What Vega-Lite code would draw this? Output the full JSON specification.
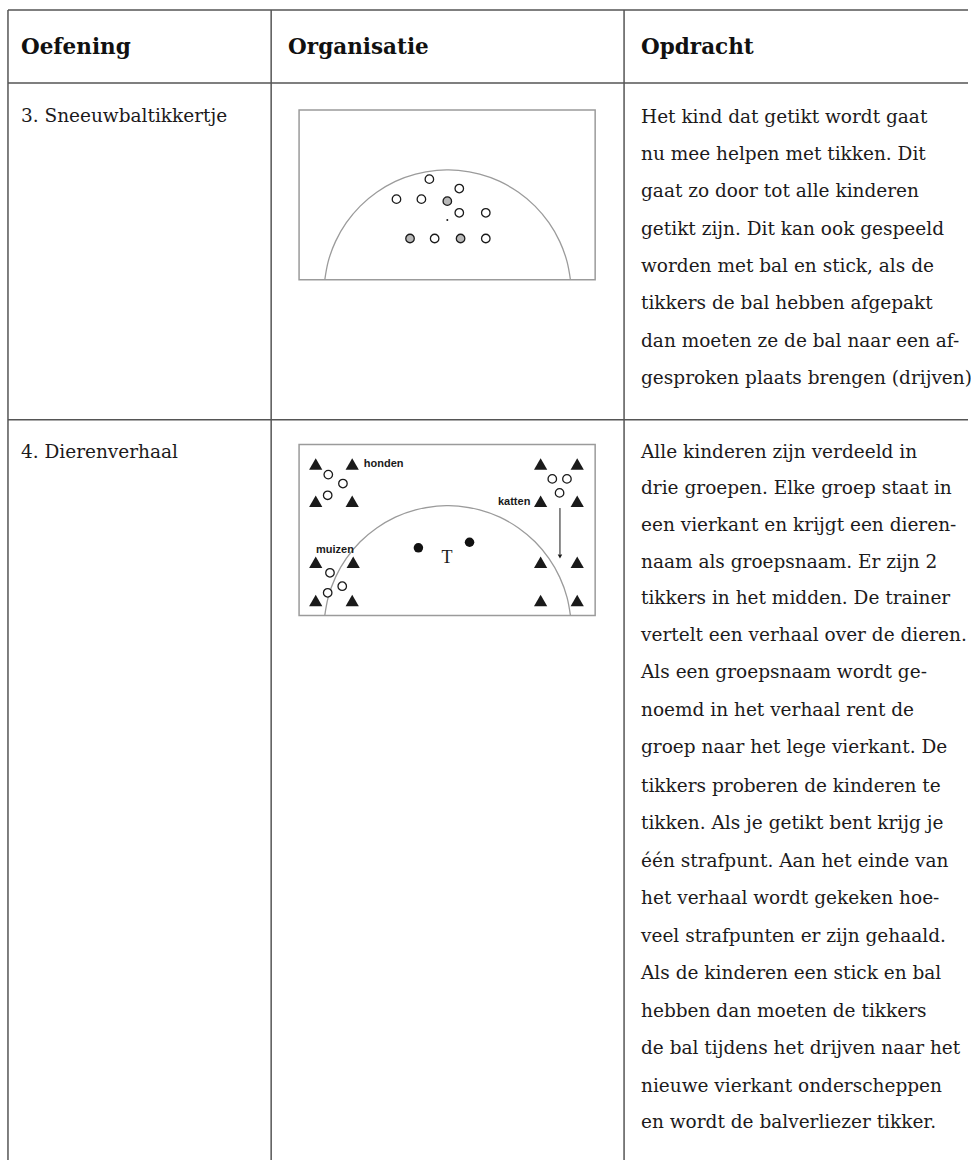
{
  "$schema": "https://vega.github.io/schema/vega-lite/v6.json",
  "width": 971,
  "height": 1161,
  "autosize": {"type": "fit", "contains": "padding"},
  "padding": 0,
  "background": "#ffffff",
  "config": {"view": {"stroke": null}},
  "datasets": {
    "tabellijnen": [
      {"x": 8, "y": 10, "x2": 971, "y2": 10},
      {"x": 8, "y": 83, "x2": 971, "y2": 83},
      {"x": 8, "y": 420, "x2": 971, "y2": 420},
      {"x": 8, "y": 10, "x2": 8, "y2": 1161},
      {"x": 272, "y": 10, "x2": 272, "y2": 1161},
      {"x": 626, "y": 10, "x2": 626, "y2": 1161}
    ],
    "velden": [
      {"oefening": "3", "x": 300, "y": 110, "x2": 597, "y2": 280},
      {"oefening": "4", "x": 300, "y": 445, "x2": 597, "y2": 616}
    ],
    "cirkelbogen": [
      {"oefening": "3", "i": 0, "x": 572.2, "y": 280.0},
      {"oefening": "3", "i": 1, "x": 568.8, "y": 261.9},
      {"oefening": "3", "i": 2, "x": 561.4, "y": 241.6},
      {"oefening": "3", "i": 3, "x": 550.6, "y": 222.9},
      {"oefening": "3", "i": 4, "x": 536.7, "y": 206.3},
      {"oefening": "3", "i": 5, "x": 520.1, "y": 192.4},
      {"oefening": "3", "i": 6, "x": 501.4, "y": 181.6},
      {"oefening": "3", "i": 7, "x": 481.1, "y": 174.2},
      {"oefening": "3", "i": 8, "x": 459.8, "y": 170.5},
      {"oefening": "3", "i": 9, "x": 449.0, "y": 170.0},
      {"oefening": "3", "i": 10, "x": 438.2, "y": 170.5},
      {"oefening": "3", "i": 11, "x": 416.9, "y": 174.2},
      {"oefening": "3", "i": 12, "x": 396.6, "y": 181.6},
      {"oefening": "3", "i": 13, "x": 377.9, "y": 192.4},
      {"oefening": "3", "i": 14, "x": 361.3, "y": 206.3},
      {"oefening": "3", "i": 15, "x": 347.4, "y": 222.9},
      {"oefening": "3", "i": 16, "x": 336.6, "y": 241.6},
      {"oefening": "3", "i": 17, "x": 329.2, "y": 261.9},
      {"oefening": "3", "i": 18, "x": 325.8, "y": 280.0},
      {"oefening": "4", "i": 0, "x": 572.2, "y": 616.0},
      {"oefening": "4", "i": 1, "x": 568.8, "y": 597.9},
      {"oefening": "4", "i": 2, "x": 561.4, "y": 577.6},
      {"oefening": "4", "i": 3, "x": 550.6, "y": 558.9},
      {"oefening": "4", "i": 4, "x": 536.7, "y": 542.3},
      {"oefening": "4", "i": 5, "x": 520.1, "y": 528.4},
      {"oefening": "4", "i": 6, "x": 501.4, "y": 517.6},
      {"oefening": "4", "i": 7, "x": 481.1, "y": 510.2},
      {"oefening": "4", "i": 8, "x": 459.8, "y": 506.5},
      {"oefening": "4", "i": 9, "x": 449.0, "y": 506.0},
      {"oefening": "4", "i": 10, "x": 438.2, "y": 506.5},
      {"oefening": "4", "i": 11, "x": 416.9, "y": 510.2},
      {"oefening": "4", "i": 12, "x": 396.6, "y": 517.6},
      {"oefening": "4", "i": 13, "x": 377.9, "y": 528.4},
      {"oefening": "4", "i": 14, "x": 361.3, "y": 542.3},
      {"oefening": "4", "i": 15, "x": 347.4, "y": 558.9},
      {"oefening": "4", "i": 16, "x": 336.6, "y": 577.6},
      {"oefening": "4", "i": 17, "x": 329.2, "y": 597.9},
      {"oefening": "4", "i": 18, "x": 325.8, "y": 616.0}
    ],
    "spelers": [
      {"oefening": "3", "rol": "speler", "x": 430.7, "y": 179.3},
      {"oefening": "3", "rol": "speler", "x": 460.7, "y": 188.7},
      {"oefening": "3", "rol": "speler", "x": 397.7, "y": 199.3},
      {"oefening": "3", "rol": "speler", "x": 422.7, "y": 199.3},
      {"oefening": "3", "rol": "tikker", "x": 448.7, "y": 201.3},
      {"oefening": "3", "rol": "speler", "x": 460.7, "y": 213.0},
      {"oefening": "3", "rol": "speler", "x": 487.3, "y": 213.0},
      {"oefening": "3", "rol": "tikker", "x": 411.3, "y": 238.7},
      {"oefening": "3", "rol": "speler", "x": 436.0, "y": 238.7},
      {"oefening": "3", "rol": "tikker", "x": 462.0, "y": 238.7},
      {"oefening": "3", "rol": "speler", "x": 487.3, "y": 238.7},
      {"oefening": "4", "rol": "speler", "x": 329.3, "y": 475.0},
      {"oefening": "4", "rol": "speler", "x": 344.0, "y": 484.0},
      {"oefening": "4", "rol": "speler", "x": 328.7, "y": 495.7},
      {"oefening": "4", "rol": "speler", "x": 554.0, "y": 479.3},
      {"oefening": "4", "rol": "speler", "x": 568.7, "y": 479.3},
      {"oefening": "4", "rol": "speler", "x": 561.3, "y": 493.3},
      {"oefening": "4", "rol": "speler", "x": 331.0, "y": 573.3},
      {"oefening": "4", "rol": "speler", "x": 343.3, "y": 586.7},
      {"oefening": "4", "rol": "speler", "x": 328.7, "y": 593.3}
    ],
    "middenstip": [
      {"oefening": "3", "x": 448.7, "y": 220.3}
    ],
    "tikkers": [
      {"oefening": "4", "x": 419.7, "y": 548.3},
      {"oefening": "4", "x": 471.0, "y": 542.7}
    ],
    "pionnen": [
      {"groep": "honden", "x": 316.7, "y": 464.3},
      {"groep": "honden", "x": 353.3, "y": 464.3},
      {"groep": "honden", "x": 316.7, "y": 501.7},
      {"groep": "honden", "x": 353.3, "y": 501.7},
      {"groep": "katten", "x": 542.3, "y": 464.3},
      {"groep": "katten", "x": 579.0, "y": 464.3},
      {"groep": "katten", "x": 542.3, "y": 501.7},
      {"groep": "katten", "x": 579.0, "y": 501.7},
      {"groep": "muizen", "x": 316.7, "y": 562.7},
      {"groep": "muizen", "x": 354.3, "y": 562.7},
      {"groep": "muizen", "x": 316.7, "y": 601.0},
      {"groep": "muizen", "x": 353.3, "y": 601.0},
      {"groep": "leeg", "x": 542.3, "y": 562.7},
      {"groep": "leeg", "x": 579.0, "y": 562.7},
      {"groep": "leeg", "x": 542.3, "y": 601.0},
      {"groep": "leeg", "x": 579.0, "y": 601.0}
    ],
    "pijl": [
      {"x": 561.7, "y": 508.5, "x2": 561.7, "y2": 555.0}
    ],
    "pijlpunt": [
      {"x": 561.7, "y": 557.0}
    ],
    "koppen": [
      {"tekst": "Oefening", "x": 21, "y": 48},
      {"tekst": "Organisatie", "x": 289, "y": 48},
      {"tekst": "Opdracht", "x": 643, "y": 48}
    ],
    "groepsnamen": [
      {"tekst": "honden", "x": 365, "y": 464.5, "uitlijning": "left"},
      {"tekst": "katten", "x": 532, "y": 502, "uitlijning": "right"},
      {"tekst": "muizen", "x": 317, "y": 550, "uitlijning": "left"}
    ],
    "trainer": [
      {"tekst": "T", "x": 448.3, "y": 558.5}
    ],
    "cellen": [
      {"tekst": "3. Sneeuwbaltikkertje", "x": 21, "y": 116},
      {"tekst": "4. Dierenverhaal", "x": 21, "y": 452},
      {"tekst": "Het kind dat getikt wordt gaat", "x": 643, "y": 117},
      {"tekst": "nu mee helpen met tikken. Dit", "x": 643, "y": 154.3},
      {"tekst": "gaat zo door tot alle kinderen", "x": 643, "y": 191.6},
      {"tekst": "getikt zijn. Dit kan ook gespeeld", "x": 643, "y": 228.9},
      {"tekst": "worden met bal en stick, als de", "x": 643, "y": 266.2},
      {"tekst": "tikkers de bal hebben afgepakt", "x": 643, "y": 303.5},
      {"tekst": "dan moeten ze de bal naar een af-", "x": 643, "y": 340.8},
      {"tekst": "gesproken plaats brengen (drijven)", "x": 643, "y": 378.1},
      {"tekst": "Alle kinderen zijn verdeeld in", "x": 643, "y": 452},
      {"tekst": "drie groepen. Elke groep staat in", "x": 643, "y": 488.5},
      {"tekst": "een vierkant en krijgt een dieren-", "x": 643, "y": 525.5},
      {"tekst": "naam als groepsnaam. Er zijn 2", "x": 643, "y": 562.5},
      {"tekst": "tikkers in het midden. De trainer", "x": 643, "y": 599},
      {"tekst": "vertelt een verhaal over de dieren.", "x": 643, "y": 636},
      {"tekst": "Als een groepsnaam wordt ge-", "x": 643, "y": 673},
      {"tekst": "noemd in het verhaal rent de", "x": 643, "y": 710.5},
      {"tekst": "groep naar het lege vierkant. De", "x": 643, "y": 748},
      {"tekst": "tikkers proberen de kinderen te", "x": 643, "y": 787},
      {"tekst": "tikken. Als je getikt bent krijg je", "x": 643, "y": 824},
      {"tekst": "één strafpunt. Aan het einde van", "x": 643, "y": 861.5},
      {"tekst": "het verhaal wordt gekeken hoe-", "x": 643, "y": 899},
      {"tekst": "veel strafpunten er zijn gehaald.", "x": 643, "y": 936.5},
      {"tekst": "Als de kinderen een stick en bal", "x": 643, "y": 974},
      {"tekst": "hebben dan moeten de tikkers", "x": 643, "y": 1011.5},
      {"tekst": "de bal tijdens het drijven naar het", "x": 643, "y": 1049},
      {"tekst": "nieuwe vierkant onderscheppen", "x": 643, "y": 1086.5},
      {"tekst": "en wordt de balverliezer tikker.", "x": 643, "y": 1123}
    ]
  },
  "encoding": {
    "x": {"field": "x", "type": "quantitative", "axis": null, "scale": {"domain": [0, 971], "nice": false, "zero": false}},
    "y": {"field": "y", "type": "quantitative", "axis": null, "scale": {"domain": [0, 1161], "nice": false, "zero": false, "reverse": true}}
  },
  "layer": [
    {
      "data": {"name": "tabellijnen"},
      "mark": {"type": "rule", "stroke": "#555555", "strokeWidth": 1.5},
      "encoding": {
        "x2": {"field": "x2"},
        "y2": {"field": "y2"}
      }
    },
    {
      "data": {"name": "velden"},
      "mark": {"type": "rect", "fill": null, "fillOpacity": 0, "stroke": "#9b9b9b", "strokeWidth": 1.5},
      "encoding": {
        "x2": {"field": "x2"},
        "y2": {"field": "y2"}
      }
    },
    {
      "data": {"name": "cirkelbogen"},
      "mark": {"type": "line", "stroke": "#9b9b9b", "strokeWidth": 1.3, "interpolate": "natural"},
      "encoding": {
        "detail": {"field": "oefening"},
        "order": {"field": "i", "type": "quantitative"}
      }
    },
    {
      "data": {"name": "pionnen"},
      "mark": {"type": "point", "shape": "triangle-up", "filled": true, "fill": "#1a1a1a", "strokeWidth": 0, "size": 175, "opacity": 1}
    },
    {
      "data": {"name": "spelers"},
      "mark": {"type": "point", "shape": "circle", "filled": false, "stroke": "#1a1a1a", "strokeWidth": 1.3, "size": 72, "opacity": 1},
      "encoding": {
        "fill": {
          "field": "rol",
          "type": "nominal",
          "legend": null,
          "scale": {"domain": ["speler", "tikker"], "range": ["#ffffff", "#b8b8b8"]}
        }
      }
    },
    {
      "data": {"name": "middenstip"},
      "mark": {"type": "point", "shape": "circle", "filled": true, "fill": "#1a1a1a", "size": 4, "opacity": 1}
    },
    {
      "data": {"name": "tikkers"},
      "mark": {"type": "point", "shape": "circle", "filled": true, "fill": "#111111", "size": 90, "opacity": 1}
    },
    {
      "data": {"name": "pijl"},
      "mark": {"type": "rule", "stroke": "#1a1a1a", "strokeWidth": 1},
      "encoding": {
        "x2": {"field": "x2"},
        "y2": {"field": "y2"}
      }
    },
    {
      "data": {"name": "pijlpunt"},
      "mark": {"type": "point", "shape": "triangle-down", "filled": true, "fill": "#1a1a1a", "size": 20, "opacity": 1}
    },
    {
      "data": {"name": "koppen"},
      "mark": {"type": "text", "align": "left", "baseline": "middle", "font": "DejaVu Serif", "fontWeight": "bold", "fontSize": 21.5, "fill": "#111111"},
      "encoding": {"text": {"field": "tekst"}}
    },
    {
      "data": {"name": "cellen"},
      "mark": {"type": "text", "align": "left", "baseline": "middle", "font": "DejaVu Serif", "fontSize": 18.5, "fill": "#1c1a1b"},
      "encoding": {"text": {"field": "tekst"}}
    },
    {
      "data": {"name": "groepsnamen"},
      "transform": [{"filter": "datum.uitlijning === 'left'"}],
      "mark": {"type": "text", "align": "left", "baseline": "middle", "font": "Liberation Sans", "fontWeight": "bold", "fontSize": 11, "fill": "#1a1a1a"},
      "encoding": {"text": {"field": "tekst"}}
    },
    {
      "data": {"name": "groepsnamen"},
      "transform": [{"filter": "datum.uitlijning === 'right'"}],
      "mark": {"type": "text", "align": "right", "baseline": "middle", "font": "Liberation Sans", "fontWeight": "bold", "fontSize": 11, "fill": "#1a1a1a"},
      "encoding": {"text": {"field": "tekst"}}
    },
    {
      "data": {"name": "trainer"},
      "mark": {"type": "text", "align": "center", "baseline": "middle", "font": "Liberation Serif", "fontSize": 18, "fill": "#1a1a1a"},
      "encoding": {"text": {"field": "tekst"}}
    }
  ]
}
